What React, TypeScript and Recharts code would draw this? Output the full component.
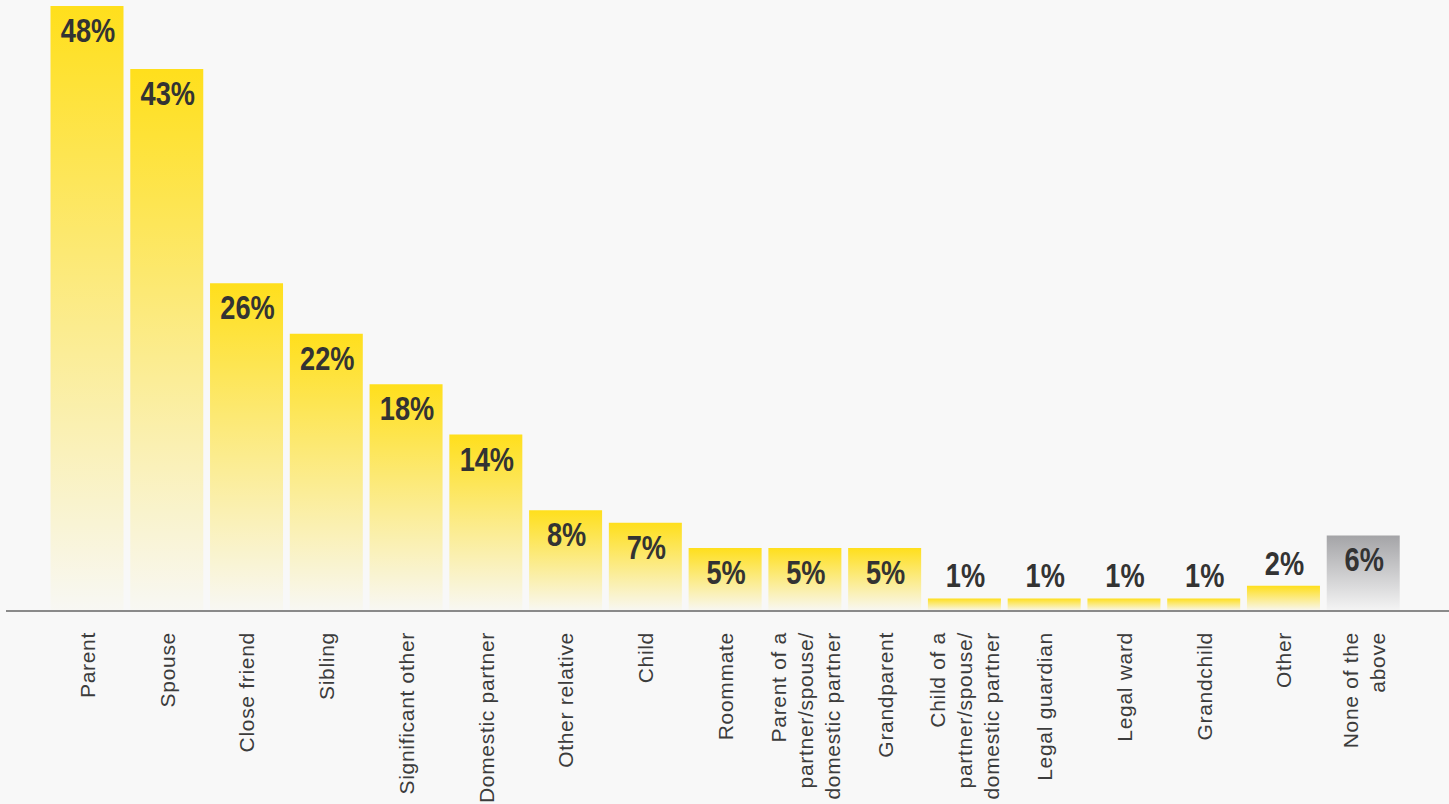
import { BarChart, Bar, XAxis, YAxis, Cell, LabelList } from "recharts";

const categories = [
  "Parent",
  "Spouse",
  "Close friend",
  "Sibling",
  "Significant other",
  "Domestic partner",
  "Other relative",
  "Child",
  "Roommate",
  "Parent of a\npartner/spouse/\ndomestic partner",
  "Grandparent",
  "Child of a\npartner/spouse/\ndomestic partner",
  "Legal guardian",
  "Legal ward",
  "Grandchild",
  "Other",
  "None of the\nabove",
];

const shares = [48, 43, 26, 22, 18, 14, 8, 7, 5, 5, 5, 1, 1, 1, 1, 2, 6];

const data = categories.map((name, i) => ({ name, value: shares[i] }));

function CategoryTick({ x, y, payload }: any) {
  const lines = String(payload.value).split("\n");
  const step = 27;
  return (
    <g transform={`translate(${x},${y + 21})`}>
      <text
        transform="rotate(-90)"
        textAnchor="end"
        fill="#3c3c3c"
        fontSize={21}
        letterSpacing={0.7}
        fontFamily="'Liberation Sans', Arial, sans-serif"
      >
        {lines.map((line, i) => (
          <tspan key={i} x={0} y={(i - (lines.length - 1) / 2) * step + 7.5}>
            {line}
          </tspan>
        ))}
      </text>
    </g>
  );
}

// no condensed face is installed, so squeeze a bold sans horizontally
function ValueLabel({ x, y, width, value }: any) {
  const inside = value >= 5;
  const cx = x + width / 2 + 1;
  const base = inside ? y + 36 : y - 11;
  return (
    <g transform={`translate(${cx},${base}) scale(0.8,1)`}>
      <text
        x={0}
        y={0}
        textAnchor="middle"
        fill="#333333"
        fontSize={34}
        fontWeight="bold"
        fontFamily="'Liberation Sans', Arial, sans-serif"
      >
        {`${value}%`}
      </text>
    </g>
  );
}

export default function App() {
  return (
    <div
      style={{
        position: "fixed",
        left: 0,
        top: 0,
        width: 1449,
        height: 804,
        background: "#f8f8f8",
      }}
    >
      <BarChart
        width={1449}
        height={804}
        data={data}
        margin={{ top: 6, right: 0, left: 6, bottom: 0 }}
        barSize={73}
      >
        <defs>
          <linearGradient id="yellowFade" x1="0" y1="0" x2="0" y2="1">
            <stop offset="0%" stopColor="#ffdf1c" stopOpacity={1} />
            <stop offset="100%" stopColor="#ffdf1c" stopOpacity={0.02} />
          </linearGradient>
          <linearGradient id="greyFade" x1="0" y1="0" x2="0" y2="1">
            <stop offset="0%" stopColor="#a4a4a7" stopOpacity={1} />
            <stop offset="100%" stopColor="#a4a4a7" stopOpacity={0.04} />
          </linearGradient>
        </defs>
        <XAxis
          dataKey="name"
          interval={0}
          height={193}
          tickLine={false}
          tickSize={0}
          tickMargin={0}
          padding={{ left: 41.5, right: 45.5 }}
          axisLine={{ stroke: "#8a8a8a", strokeWidth: 2 }}
          tick={<CategoryTick />}
        />
        <YAxis hide domain={[0, 48]} />
        <Bar dataKey="value" isAnimationActive={false}>
          {data.map((d, i) => (
            <Cell
              key={d.name}
              fill={i === data.length - 1 ? "url(#greyFade)" : "url(#yellowFade)"}
            />
          ))}
          <LabelList dataKey="value" content={<ValueLabel />} />
        </Bar>
      </BarChart>
    </div>
  );
}
